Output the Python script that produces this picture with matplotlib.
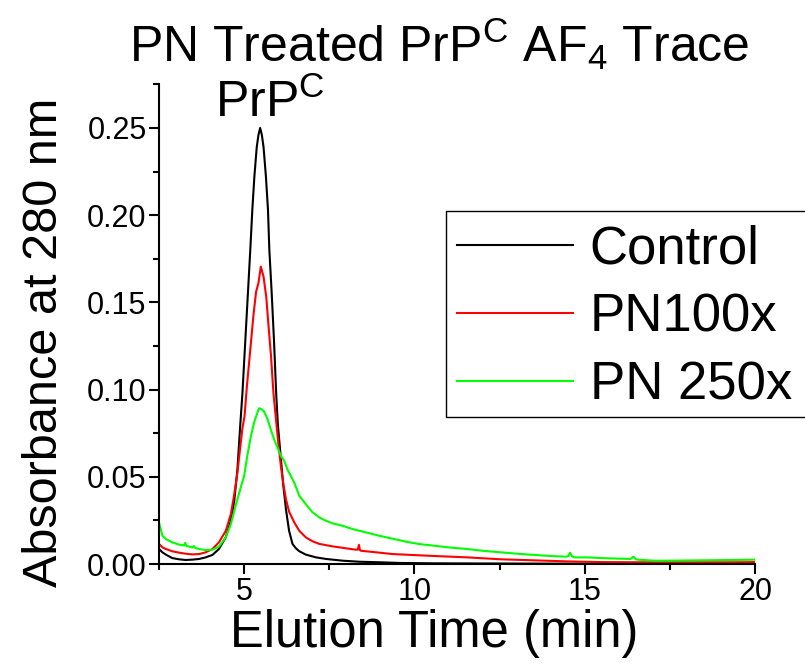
import matplotlib
matplotlib.use("Agg")
import matplotlib.pyplot as plt
from matplotlib.patches import Rectangle
from matplotlib.ticker import MultipleLocator, FormatStrFormatter

plt.rcParams['font.family'] = ['Liberation Sans', 'DejaVu Sans']
plt.rcParams['mathtext.fontset'] = 'custom'
plt.rcParams['mathtext.rm'] = 'Liberation Sans'
plt.rcParams['mathtext.it'] = 'Liberation Sans:italic'
plt.rcParams['mathtext.bf'] = 'Liberation Sans:bold'

# ---- data ----
control_x = [2.5, 2.6, 2.7, 2.89, 3.09, 3.28, 3.48, 3.68, 3.87, 4.07, 4.26, 4.46, 4.61, 4.71,
             4.80, 4.88, 4.95, 5.03, 5.11, 5.18, 5.24, 5.30, 5.37, 5.42, 5.47, 5.52, 5.57, 5.64,
             5.70, 5.74, 5.81, 5.88, 5.94, 5.99, 6.08, 6.15, 6.23, 6.32, 6.42, 6.52, 6.62, 6.81,
             7.11, 7.40, 7.89, 8.38, 8.97, 9.56, 10.5, 12.0, 14.0, 16.0, 18.0, 20.0]
control_y = [0.0086, 0.0067, 0.0054, 0.0034, 0.0027, 0.0023, 0.0025, 0.0029, 0.0038, 0.0052,
             0.0086, 0.0153, 0.0248, 0.0363, 0.0535, 0.078, 0.098, 0.1266, 0.155, 0.180, 0.203,
             0.222, 0.239, 0.246, 0.250, 0.246, 0.239, 0.222, 0.203, 0.180, 0.155, 0.1266, 0.098,
             0.080, 0.060, 0.045, 0.031, 0.019, 0.0115, 0.009, 0.0073, 0.0054, 0.0038, 0.0029,
             0.0019, 0.0013, 0.0010, 0.0006, 0.0004, 0.0003, 0.0002, 0.0002, 0.0002, 0.0002]

pn100_x = [2.5, 2.6, 2.7, 2.89, 3.09, 3.28, 3.48, 3.68, 3.87, 4.07, 4.26, 4.46, 4.61, 4.71,
           4.80, 4.88, 4.95, 5.01, 5.08, 5.18, 5.27, 5.35, 5.42, 5.49, 5.57, 5.65, 5.71, 5.79,
           5.86, 5.94, 6.01, 6.08, 6.15, 6.23, 6.32, 6.47, 6.62, 6.81, 7.01, 7.21, 7.60, 7.99,
           8.28, 8.34, 8.37, 8.40, 8.43, 8.87, 9.36, 9.90, 10.57, 11.55, 12.53, 13.51, 14.49,
           15.47, 16.45, 17.43, 18.41, 19.40, 20.0]
pn100_y = [0.0115, 0.0096, 0.0086, 0.0073, 0.0065, 0.0059, 0.0055, 0.0057, 0.0067, 0.0086,
           0.0124, 0.019, 0.0286, 0.040, 0.052, 0.066, 0.078, 0.0845, 0.1017, 0.1227, 0.142,
           0.156, 0.161, 0.1705, 0.1647, 0.153, 0.138, 0.119, 0.098, 0.082, 0.068, 0.056,
           0.046, 0.037, 0.030, 0.0239, 0.019, 0.0153, 0.013, 0.0115, 0.0101, 0.0090, 0.0082,
           0.0083, 0.0110, 0.0079, 0.0076, 0.0067, 0.0057, 0.0052, 0.0046, 0.0038, 0.0027,
           0.0021, 0.0015, 0.0011, 0.0010, 0.0010, 0.0010, 0.0010, 0.0011]

pn250_x = [2.5, 2.6, 2.7, 2.89, 3.09, 3.24, 3.27, 3.30, 3.48, 3.53, 3.56, 3.68, 3.87, 4.07,
           4.26, 4.46, 4.61, 4.75, 4.90, 5.00, 5.10, 5.20, 5.29, 5.39, 5.44, 5.49, 5.53, 5.59,
           5.69, 5.78, 5.88, 5.98, 6.08, 6.18, 6.27, 6.37, 6.47, 6.62, 6.81, 7.01, 7.21, 7.40,
           7.60, 7.89, 8.19, 8.58, 8.97, 9.36, 9.75, 10.15, 10.57, 11.06, 11.55, 12.04, 12.53,
           13.02, 13.51, 14.00, 14.44, 14.52, 14.57, 14.63, 14.69, 15.08, 15.47, 15.96, 16.35,
           16.43, 16.50, 16.55, 17.04, 17.43, 18.41, 19.39, 20.0]
pn250_y = [0.0238, 0.0162, 0.0143, 0.0124, 0.0111, 0.0106, 0.0122, 0.0104, 0.0095, 0.0103,
           0.0092, 0.0086, 0.0080, 0.0082, 0.0099, 0.0153, 0.0229, 0.0334, 0.0439, 0.0505,
           0.0629, 0.0734, 0.081, 0.0868, 0.0893, 0.0890, 0.0885, 0.0873, 0.083, 0.0772,
           0.0715, 0.0667, 0.062, 0.059, 0.0543, 0.0505, 0.0467, 0.0391, 0.0343, 0.0296,
           0.0267, 0.0248, 0.0233, 0.0219, 0.0200, 0.0181, 0.0162, 0.0145, 0.0128, 0.0114,
           0.0105, 0.0094, 0.0086, 0.0075, 0.0067, 0.0059, 0.0052, 0.0046, 0.0042, 0.0045,
           0.0065, 0.0044, 0.0038, 0.0038, 0.0034, 0.0031, 0.0029, 0.0042, 0.0027, 0.0025,
           0.0019, 0.0019, 0.0021, 0.0023, 0.0025]

series_labels = ["Control", "PN100x", "PN 250x"]
series_colors = ["#000000", "#ff0000", "#00ff00"]

xticks = [5, 10, 15, 20]
yticks = [0.00, 0.05, 0.10, 0.15, 0.20, 0.25]

# ---- figure ----
W, H = 805, 666
fig = plt.figure(figsize=(W / 100, H / 100), dpi=100)
ax = fig.add_axes([159 / W, 1 - 564 / H, 596 / W, 480 / H])

for xs, ys, lab, col in zip([control_x, pn100_x, pn250_x],
                            [control_y, pn100_y, pn250_y],
                            series_labels, series_colors):
    ax.plot(xs, ys, color=col, lw=1.5, label=lab)

ax.set_xlim(2.5, 20)
ax.set_ylim(0, 0.2752)
ax.set_xticks(xticks)
ax.set_yticks(yticks)
ax.xaxis.set_minor_locator(MultipleLocator(2.5))
ax.yaxis.set_minor_locator(MultipleLocator(0.025))
ax.yaxis.set_major_formatter(FormatStrFormatter('%.2f'))
ax.tick_params(which='major', direction='out', length=7, width=1.5, labelsize=22, pad=2)
ax.tick_params(which='minor', direction='out', length=4, width=1.5)
for s in ['top', 'right']:
    ax.spines[s].set_visible(False)
for s in ['left', 'bottom']:
    ax.spines[s].set_linewidth(1.5)
ax.patch.set_visible(False)

fig.text(45 / W, 1 - 342 / H, "Absorbance at 280 nm", rotation=90,
         ha='center', va='center', fontsize=35)
fig.text(434 / W, 1 - 633 / H, "Elution Time (min)", ha='center', va='center', fontsize=36.5)
fig.text(439 / W, 1 - 62 / H, r"PN Treated PrP$^{\mathrm{C}}$ AF$_{\mathrm{4}}$ Trace",
         ha='center', va='baseline', fontsize=36)
fig.text(270 / W, 1 - 117 / H, r"PrP$^{\mathrm{C}}$", ha='center', va='baseline', fontsize=36)

# legend entries (frame drawn separately: it runs past the right edge of the image)
leg = ax.legend(loc='upper left', bbox_to_anchor=(446 / W, 1 - 214 / H),
                bbox_transform=fig.transFigure, fontsize=38, frameon=False,
                handlelength=2.2, handletextpad=0.32, labelspacing=0.34, borderpad=0.2,
                borderaxespad=0)
fig.patches.append(Rectangle((446 / W, 1 - 417 / H), 370 / W, 206 / H,
                             transform=fig.transFigure, fill=False,
                             edgecolor='black', linewidth=1.0))

fig.savefig("out.png", dpi=100)
